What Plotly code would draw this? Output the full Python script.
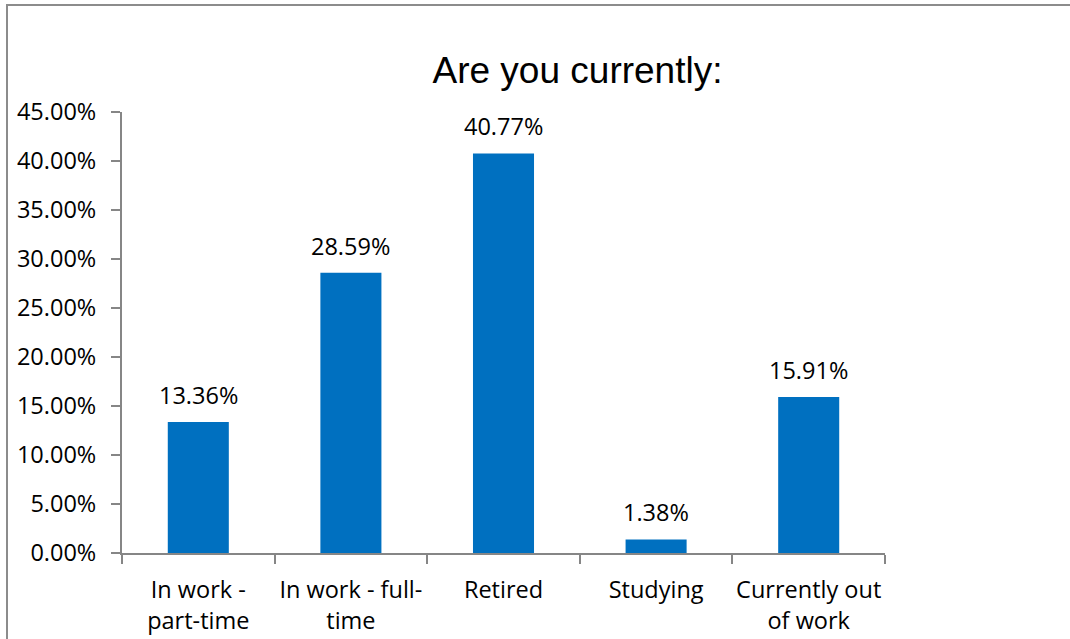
import plotly.graph_objects as go

# Survey answers to "Are you currently:" (share of respondents, %)
categories = [
    "In work -<br>part-time",
    "In work - full-<br>time",
    "Retired",
    "Studying",
    "Currently out<br>of work",
]
shares = [13.36, 28.59, 40.77, 1.38, 15.91]
y_ticks = [0, 5, 10, 15, 20, 25, 30, 35, 40, 45]

W, H = 1070, 639
M_L, M_R, M_T, M_B = 122, 185, 112, 86
plot_w = W - M_L - M_R
plot_h = H - M_T - M_B

BAR = "#0070C0"
AXIS = "#868686"
FONT = "Open Sans"
FS = 23.5


def px_x(px):
    return (px - M_L) / plot_w


def px_y(py):
    return (H - M_B - py) / plot_h


fig = go.Figure(
    go.Bar(
        x=categories,
        y=shares,
        width=0.4,
        marker=dict(color=BAR, line=dict(width=0)),
        hoverinfo="skip",
    )
)

# value labels above each bar
for cat, v in zip(categories, shares):
    fig.add_annotation(
        x=cat, y=v, text=f"{v:.2f}%", showarrow=False,
        yanchor="bottom", yshift=9,
        font=dict(family=FONT, size=FS, color="#000000"),
    )

# outer chart frame
fig.add_shape(
    type="rect", xref="paper", yref="paper",
    x0=px_x(7), x1=px_x(W + 10), y0=px_y(H + 10), y1=px_y(5),
    line=dict(color="#8C8C8C", width=2), fillcolor="rgba(0,0,0,0)",
    layer="below",
)

fig.update_layout(
    width=W, height=H,
    margin=dict(l=M_L, r=M_R, t=M_T, b=M_B, pad=0, autoexpand=False),
    paper_bgcolor="white", plot_bgcolor="white",
    showlegend=False,
    title=dict(
        text="Are you currently:",
        font=dict(family="Liberation Sans", size=37, color="#000000"),
        xref="paper", x=px_x(577.5), xanchor="center",
        yref="container", y=1 - 70 / H, yanchor="middle",
    ),
    font=dict(family=FONT, size=FS, color="#000000"),
    xaxis=dict(
        type="category", range=[-0.5, 4.5],
        showline=True, linecolor=AXIS, linewidth=2,
        ticks="outside", tickson="boundaries", ticklen=9,
        tickcolor=AXIS, tickwidth=2,
        tickangle=0, automargin=False,
        ticklabelstandoff=15,
        showgrid=False, zeroline=False,
        tickfont=dict(family=FONT, size=FS, color="#000000"),
    ),
    yaxis=dict(
        range=[0, 45], tickvals=y_ticks,
        ticktext=[f"{t:.2f}%" for t in y_ticks],
        showline=True, linecolor=AXIS, linewidth=2,
        ticks="outside", ticklen=9, tickcolor=AXIS, tickwidth=2,
        automargin=False,
        ticklabelstandoff=10,
        showgrid=False, zeroline=False,
        tickfont=dict(family=FONT, size=FS, color="#000000"),
    ),
)

fig.write_html("out.html")
